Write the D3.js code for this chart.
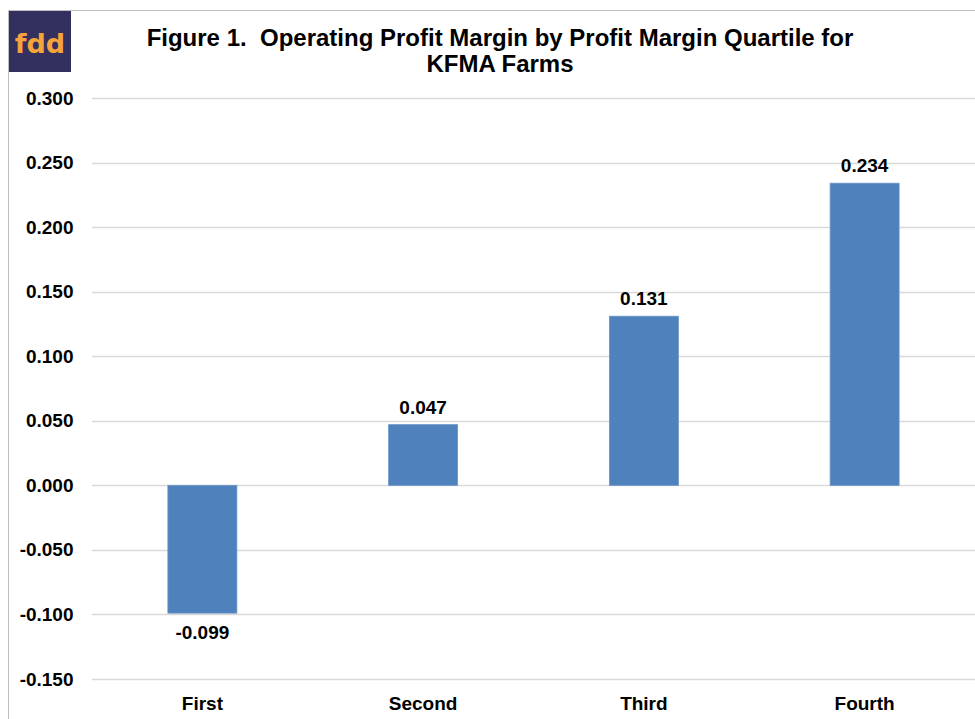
<!DOCTYPE html>
<html><head><meta charset="utf-8">
<script src="https://cdn.jsdelivr.net/npm/d3@7"></script>
<style>body{margin:0;background:#fff;}svg{display:block;font-family:"Liberation Sans",Arial,sans-serif;}</style>
</head><body>
<script>
const categories = ["First", "Second", "Third", "Fourth"];
const values = [-0.099, 0.047, 0.131, 0.234];
const tickValues = [0.3, 0.25, 0.2, 0.15, 0.1, 0.05, 0, -0.05, -0.1, -0.15];
const titleLines = ["Figure 1.  Operating Profit Margin by Profit Margin Quartile for", "KFMA Farms"];

const W = 975, H = 719;
const svg = d3.select("body").append("svg").attr("width", W).attr("height", H);
const fmt = d => d3.format(".3f")(d).replace("\u2212", "-");

// frame
svg.append("line").attr("x1", 8.5).attr("x2", W).attr("y1", 10.5).attr("y2", 10.5).attr("stroke", "#bfbfbf");
svg.append("line").attr("x1", 8.5).attr("x2", 8.5).attr("y1", 10.5).attr("y2", H).attr("stroke", "#bfbfbf");

// logo
svg.append("rect").attr("x", 9).attr("y", 11).attr("width", 62).attr("height", 61).attr("fill", "#332f5f");
svg.append("text").attr("x", 40).attr("y", 53).attr("text-anchor", "middle")
  .attr("fill", "#f6a33b").attr("font-size", 27).attr("font-weight", "bold")
  .attr("font-family", "'DejaVu Sans', sans-serif").text("fdd");

// title
svg.append("text").attr("text-anchor", "middle").attr("font-size", 24).attr("font-weight", "bold").attr("fill", "#000")
  .style("white-space", "pre")
  .selectAll("tspan").data(titleLines).join("tspan")
  .attr("x", 500).attr("y", (d, i) => 46 + i * 26).text(d => d);

const x = d3.scaleBand().domain(categories).range([92, 975]).paddingInner(0.6875).paddingOuter(0.34375);
const y = d3.scaleLinear().domain([-0.15, 0.3]).range([679, 98]);

// gridlines
svg.append("g").selectAll("line").data(tickValues).join("line")
  .attr("x1", 92).attr("x2", 975).attr("y1", d => Math.round(y(d)) + 0.5).attr("y2", d => Math.round(y(d)) + 0.5)
  .attr("stroke", "#d9d9d9").attr("stroke-width", 1.5);

// y axis labels
const yAxis = d3.axisLeft(y).tickValues(tickValues).tickFormat(fmt).tickSize(0).tickPadding(0);
const yg = svg.append("g").attr("transform", "translate(73.5,0)").call(yAxis);
yg.select(".domain").remove();
yg.selectAll("text").attr("font-size", 19).attr("font-weight", "bold").attr("fill", "#000")
  .attr("font-family", "'Liberation Sans', Arial, sans-serif");

// bars
svg.append("g").selectAll("rect").data(values).join("rect")
  .attr("x", (d, i) => x(categories[i])).attr("width", x.bandwidth())
  .attr("y", d => y(Math.max(0, d))).attr("height", d => Math.abs(y(d) - y(0)))
  .attr("fill", "#4f81bd").attr("stroke", "#6b95c9").attr("stroke-width", 0.8);

// value labels
svg.append("g").selectAll("text").data(values).join("text")
  .attr("x", (d, i) => x(categories[i]) + x.bandwidth() / 2)
  .attr("y", d => d >= 0 ? y(d) - 11 : y(d) + 26)
  .attr("text-anchor", "middle").attr("font-size", 19).attr("font-weight", "bold").attr("fill", "#000")
  .text(fmt);

// x axis labels
const xAxis = d3.axisBottom(x).tickSize(0).tickPadding(0);
const xg = svg.append("g").attr("transform", "translate(0,696.5)").call(xAxis);
xg.select(".domain").remove();
xg.selectAll("text").attr("font-size", 19).attr("font-weight", "bold").attr("fill", "#000")
  .attr("font-family", "'Liberation Sans', Arial, sans-serif");
</script>
</body></html>
